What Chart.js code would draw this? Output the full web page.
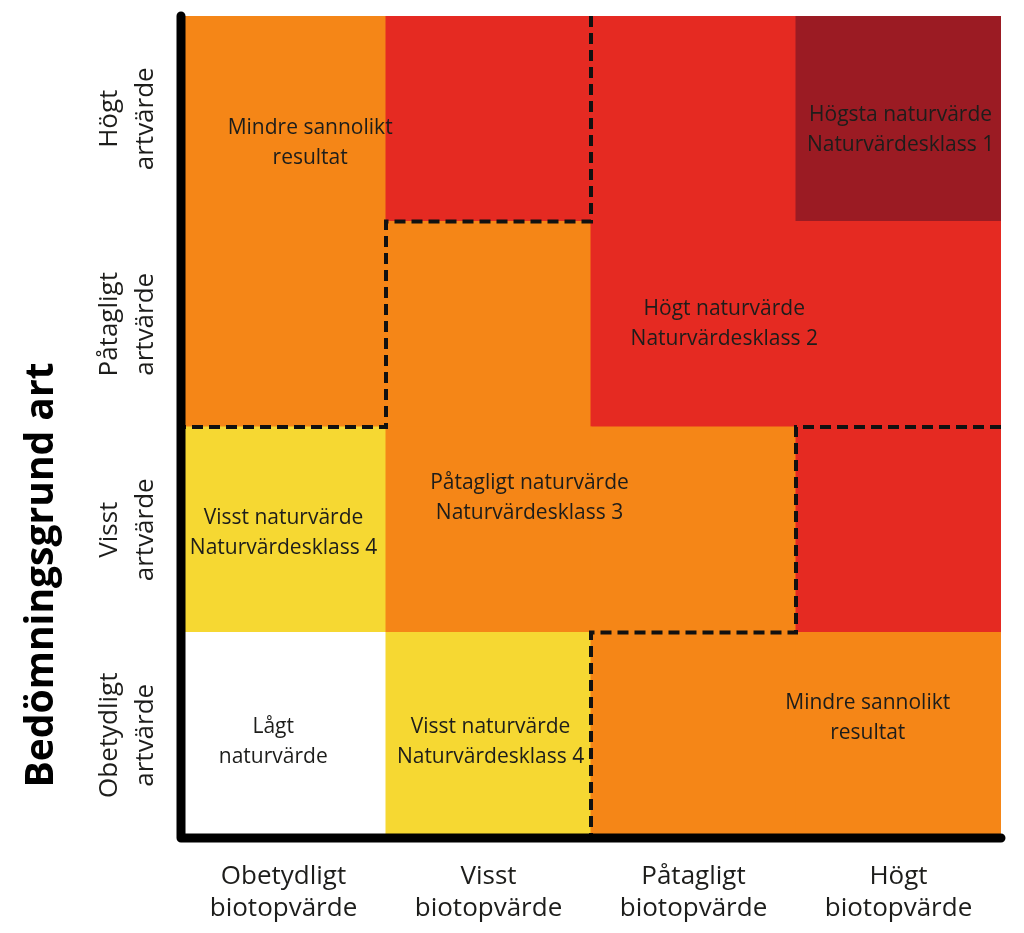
<!DOCTYPE html>
<html><head><meta charset="utf-8">
<script src="https://cdn.jsdelivr.net/npm/chart.js@4"></script>
<style>html,body{margin:0;padding:0;background:#fff}#wrap{width:1024px;height:933px}</style>
</head><body><div id="wrap"><canvas id="c"></canvas></div>
<script>
// ---- data ----
const columnLabels = [["Obetydligt","biotopvärde"],["Visst","biotopvärde"],["Påtagligt","biotopvärde"],["Högt","biotopvärde"]];
const rowLabels = [["Obetydligt","artvärde"],["Visst","artvärde"],["Påtagligt","artvärde"],["Högt","artvärde"]]; // bottom -> top
const xTickValues = [0.5, 1.5, 2.5, 3.5];
const yTickValues = [0.5, 1.5, 2.5, 3.5];
const cellHeights = [1, 1, 1, 1];
// class per cell: rows bottom->top, columns left->right
const cellClasses = [
  [0, 1, 2, 2],
  [1, 2, 2, 3],
  [2, 2, 3, 3],
  [2, 3, 3, 4]
];
const classColors = ["#FFFFFF", "#F6D832", "#F58617", "#E52A22", "#9B1B23"];
const boundaryA = [{x:2,y:4},{x:2,y:3},{x:1,y:3},{x:1,y:2},{x:0,y:2}];
const boundaryB = [{x:4,y:2},{x:3,y:2},{x:3,y:1},{x:2,y:1},{x:2,y:0}];
const regionTexts = [
  ["Mindre sannolikt","resultat"],
  ["Högsta naturvärde","Naturvärdesklass 1"],
  ["Högt naturvärde","Naturvärdesklass 2"],
  ["Påtagligt naturvärde","Naturvärdesklass 3"],
  ["Visst naturvärde","Naturvärdesklass 4"],
  ["Lågt","naturvärde"],
  ["Visst naturvärde","Naturvärdesklass 4"],
  ["Mindre sannolikt","resultat"]
];
const regionAnchorX = [0.63, 3.51, 2.65, 1.70, 0.50, 0.45, 1.51, 3.35];
const regionAnchorY = [3.38, 3.445, 2.50, 1.655, 1.484, 0.467, 0.467, 0.584];
const yTitle = "Bedömningsgrund art";
const yTitleAnchor = 1.28;

// ---- chart ----
const barDatasets = cellClasses.map((row, r) => ({
  type: 'bar',
  label: rowLabels[r].join(' '),
  data: xTickValues.map((xv, c) => ({ x: xv, y: cellHeights[c] })),
  backgroundColor: row.map(c => classColors[c]),
  borderWidth: 0,
  barPercentage: 1,
  categoryPercentage: 1,
  inflateAmount: 0.5,
  xAxisID: 'x',
  yAxisID: 'y',
  order: 1
}));
const lineStyle = {
  type: 'line', xAxisID: 'x', yAxisID: 'y2', borderColor: '#111', borderWidth: 4,
  borderDash: [11, 6], pointRadius: 0, fill: false, tension: 0, clip: false, order: 0,
  borderCapStyle: 'butt', borderJoinStyle: 'miter'
};
const lineDatasets = [
  Object.assign({label: 'gräns 1', data: boundaryA}, lineStyle),
  Object.assign({label: 'gräns 2', data: boundaryB}, lineStyle)
];

const overlayPlugin = {
  id: 'overlay',
  afterDatasetsDraw(chart) {
    const {ctx, chartArea, scales} = chart;
    const {left, right, top, bottom} = chartArea;
    const xs = scales.x, y2 = scales.y2;
    ctx.save();
    ctx.fillStyle = '#1d1d1b';
    ctx.font = '21px "Open Sans"';
    ctx.textAlign = 'center';
    ctx.textBaseline = 'middle';
    regionTexts.forEach((lines, i) => {
      const cx = xs.getPixelForValue(regionAnchorX[i]);
      const cy = y2.getPixelForValue(regionAnchorY[i]);
      const lh = 30;
      lines.forEach((t, j) => ctx.fillText(t, cx, cy + (j - (lines.length - 1) / 2) * lh));
    });
    ctx.strokeStyle = '#000';
    ctx.lineWidth = 9;
    ctx.lineCap = 'round';
    ctx.lineJoin = 'round';
    ctx.beginPath();
    ctx.moveTo(left, top);
    ctx.lineTo(left, bottom);
    ctx.lineTo(right, bottom);
    ctx.stroke();
    // y axis title
    ctx.save();
    ctx.translate(53, y2.getPixelForValue(yTitleAnchor));
    ctx.rotate(-Math.PI / 2);
    ctx.font = 'bold 39px "Open Sans"';
    ctx.fillStyle = '#000';
    ctx.textAlign = 'center';
    ctx.textBaseline = 'alphabetic';
    ctx.fillText(yTitle, 0, 0);
    ctx.restore();
    ctx.restore();
  }
};

new Chart(document.getElementById('c'), {
  type: 'bar',
  data: { datasets: [...lineDatasets, ...barDatasets] },
  options: {
    responsive: true,
    maintainAspectRatio: false,
    animation: false,
    layout: { padding: { top: 16, right: 23, left: 0, bottom: 0 } },
    plugins: { legend: { display: false }, tooltip: { enabled: false }, title: { display: false } },
    scales: {
      x: {
        type: 'linear',
        min: 0, max: 4,
        offset: false,
        stacked: true,
        grid: { display: false, drawTicks: false },
        border: { display: false },
        afterBuildTicks(s) { s.ticks = xTickValues.map(v => ({ value: v })); },
        ticks: {
          color: '#1d1d1b',
          font: { family: 'Open Sans', size: 26, lineHeight: 1.23 },
          padding: 23, maxRotation: 0, minRotation: 0, autoSkip: false,
          callback: (v, i) => columnLabels[i]
        },
        afterFit(s) { s.height = 95; s.paddingLeft = 0; s.paddingRight = 0; }
      },
      y: {
        type: 'linear',
        stacked: true,
        min: 0, max: 4,
        grid: { display: false, drawTicks: false },
        border: { display: false },
        afterBuildTicks(s) { s.ticks = yTickValues.map(v => ({ value: v })); },
        ticks: {
          color: '#1d1d1b',
          font: { family: 'Open Sans', size: 26, lineHeight: 1.38 },
          minRotation: 90, maxRotation: 90,
          crossAlign: 'center',
          padding: -9,
          autoSkip: false,
          callback: (v, i) => rowLabels[i]
        },
        afterFit(s) { s.width = 181; s.paddingTop = 0; s.paddingBottom = 0; }
      },
      y2: { type: 'linear', min: 0, max: 4, display: false }
    }
  },
  plugins: [overlayPlugin]
});
</script>
</body></html>
